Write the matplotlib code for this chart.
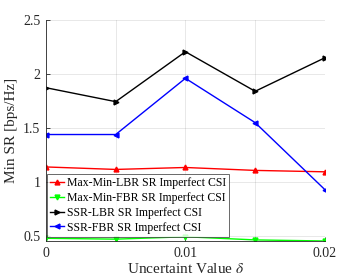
import numpy as np
import matplotlib
matplotlib.use('Agg')
import matplotlib.pyplot as plt

# values
delta = [0, 0.005, 0.01, 0.015, 0.02]
maxmin_lbr = [1.14, 1.117, 1.135, 1.108, 1.095]
maxmin_fbr = [0.48, 0.472, 0.494, 0.465, 0.455]
ssr_lbr = [1.873, 1.744, 2.206, 1.84, 2.15]
ssr_fbr = [1.44, 1.44, 1.96, 1.55, 0.93]

xtick_vals = [0, 0.005, 0.01, 0.015, 0.02]
xtick_labels = ['0', '', '0.01', '', '0.02']
ytick_vals = [0.5, 1, 1.5, 2, 2.5]
ytick_labels = ['0.5', '1', '1.5', '2', '2.5']

plt.rcParams['font.family'] = ['Liberation Serif', 'DejaVu Serif']
plt.rcParams['mathtext.fontset'] = 'stix'

fig = plt.figure(figsize=(3.59, 2.77), dpi=100)
ax = fig.add_axes([0.128, 0.130, 0.777, 0.798])

ax.plot(delta, maxmin_lbr, color=(1, 0, 0), marker='^', ms=3.5, lw=1,
        label='Max-Min-LBR SR Imperfect CSI')
ax.plot(delta, maxmin_fbr, color=(0, 1, 0), marker='v', ms=3.5, lw=1,
        label='Max-Min-FBR SR Imperfect CSI')
ax.plot(delta, ssr_lbr, color='k', marker='>', ms=3.5, lw=1,
        label='SSR-LBR SR Imperfect CSI')
ax.plot(delta, ssr_fbr, color=(0, 0, 1), marker='<', ms=3.5, lw=1,
        label='SSR-FBR SR Imperfect CSI')

ax.set_xlim(0, 0.02)
ax.set_ylim(0.455, 2.5)
ax.set_xticks(xtick_vals)
ax.set_xticklabels(xtick_labels)
ax.set_yticks(ytick_vals)
ax.set_yticklabels(ytick_labels)

ax.grid(True, color=(0.15, 0.15, 0.15), alpha=0.12, lw=0.6)
for side in ['top', 'right']:
    ax.spines[side].set_visible(False)
for side in ['left', 'bottom']:
    ax.spines[side].set_color((0.15, 0.15, 0.15))
    ax.spines[side].set_linewidth(0.6)
ax.tick_params(direction='in', length=3, width=0.6, labelsize=10,
               colors=(0.15, 0.15, 0.15), pad=4)

ax.set_xlabel(r'Uncertaint Value $\delta$', fontsize=11, color=(0.15, 0.15, 0.15), labelpad=2)
ax.set_ylabel('Min SR [bps/Hz]', fontsize=11, color=(0.15, 0.15, 0.15), labelpad=4)

leg = ax.legend(loc='lower left', bbox_to_anchor=(0.005, 0.02), fontsize=8.5,
                frameon=True, fancybox=False, edgecolor=(0.15, 0.15, 0.15),
                handlelength=1.2, handletextpad=0.2, borderpad=0.25,
                labelspacing=0.25, borderaxespad=0)
leg.get_frame().set_linewidth(0.6)

fig.savefig('out.png', dpi=100)
